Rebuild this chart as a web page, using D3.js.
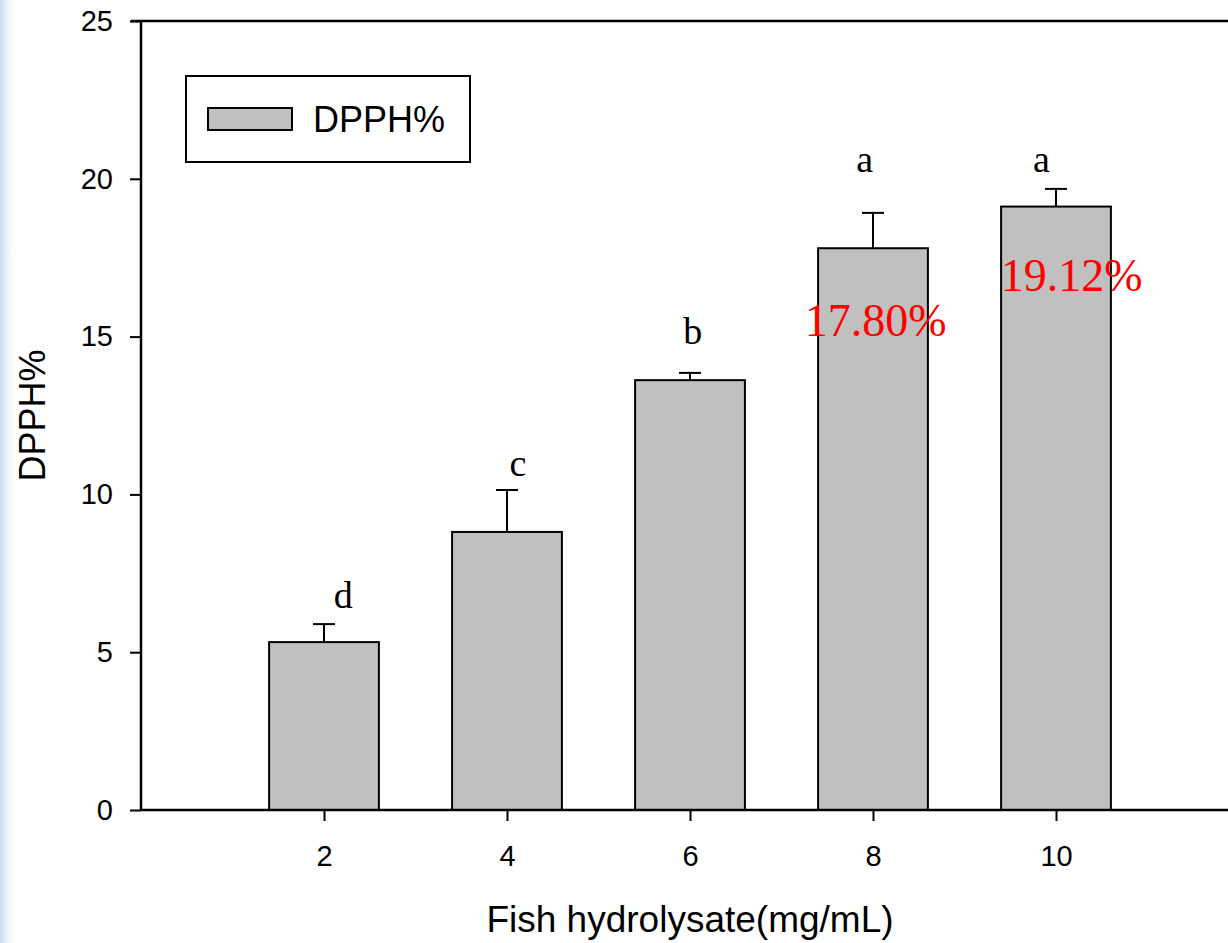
<!DOCTYPE html>
<html>
<head>
<meta charset="utf-8">
<script src="https://cdn.jsdelivr.net/npm/d3@7"></script>
<style>
  html, body { margin: 0; padding: 0; background: #fff; }
  svg { display: block; }
</style>
</head>
<body>
<script>
// DPPH radical scavenging of fish hydrolysate by concentration
const concentrations = [2, 4, 6, 8, 10];
const dpphMeans = [5.32, 8.81, 13.62, 17.80, 19.12];
const dpphErrors = [0.57, 1.33, 0.23, 1.12, 0.56];
const groupLetters = ["d", "c", "b", "a", "a"];
// where each significance letter sits, in data units (concentration, DPPH%)
const letterAtX = [2.21, 4.12, 6.03, 7.91, 9.84];
const letterAtY = [6.40, 10.58, 14.76, 20.22, 20.22];
// highlighted mean values and their anchor points in data units
const valueLabels = ["17.80%", "19.12%"];
const valueLabelX = [8.03, 10.17];
const valueLabelY = [15.02, 16.44];
const yTicks = [0, 5, 10, 15, 20, 25];

const W = 1228, H = 943;
const svg = d3.select("body").append("svg").attr("width", W).attr("height", H);

// soft bluish edge on the left
const defs = svg.append("defs");
const grad = defs.append("linearGradient").attr("id", "edge").attr("x1", 0).attr("x2", 1);
grad.append("stop").attr("offset", 0).attr("stop-color", "#c9d9ee");
grad.append("stop").attr("offset", 1).attr("stop-color", "#ffffff").attr("stop-opacity", 0);
svg.append("rect").attr("x", 0).attr("y", 0).attr("width", 18).attr("height", H).attr("fill", "url(#edge)");

const x = d3.scaleLinear().domain([0, 12]).range([141, 1239]);
const y = d3.scaleLinear().domain([0, 25]).range([810, 21]);
const barW = x(1.2) - x(0);

const sans = "Arial, 'Liberation Sans', sans-serif";
const serif = "'Times New Roman', 'Liberation Serif', serif";

// bars
svg.append("g").selectAll("rect")
  .data(concentrations)
  .join("rect")
  .attr("x", (d) => x(d) - barW / 2)
  .attr("y", (d, i) => y(dpphMeans[i]))
  .attr("width", barW)
  .attr("height", (d, i) => y(0) - y(dpphMeans[i]))
  .attr("fill", "#c0c0c0")
  .attr("stroke", "#000")
  .attr("stroke-width", 2);

// upper error bars
const err = svg.append("g").attr("stroke", "#000").attr("stroke-width", 2);
concentrations.forEach((c, i) => {
  const top = y(dpphMeans[i] + dpphErrors[i]);
  err.append("line").attr("x1", x(c)).attr("x2", x(c)).attr("y1", y(dpphMeans[i])).attr("y2", top);
  err.append("line").attr("x1", x(c) - 11).attr("x2", x(c) + 11).attr("y1", top).attr("y2", top);
});

// significance letters
svg.append("g").selectAll("text")
  .data(groupLetters)
  .join("text")
  .attr("x", (d, i) => x(letterAtX[i]))
  .attr("y", (d, i) => y(letterAtY[i]))
  .attr("text-anchor", "middle")
  .attr("font-family", serif)
  .attr("font-size", 38)
  .attr("fill", "#000")
  .text((d) => d);

// value labels
svg.append("g").selectAll("text")
  .data(valueLabels)
  .join("text")
  .attr("x", (d, i) => x(valueLabelX[i]))
  .attr("y", (d, i) => y(valueLabelY[i]))
  .attr("text-anchor", "middle")
  .attr("font-family", serif)
  .attr("font-size", 46)
  .attr("fill", "#ff0000")
  .text((d) => d);

// axes
const yAxis = svg.append("g")
  .attr("transform", `translate(${x(0)},0)`)
  .call(d3.axisLeft(y).tickValues(yTicks).tickSize(11).tickPadding(17));
const xAxis = svg.append("g")
  .attr("transform", `translate(0,${y(0)})`)
  .call(d3.axisBottom(x).tickValues(concentrations).tickSize(11).tickPadding(24));
[yAxis, xAxis].forEach((g) => {
  g.attr("font-size", null).attr("font-family", null);
  g.select(".domain").remove();
  g.selectAll(".tick line").attr("stroke", "#000").attr("stroke-width", 2);
  g.selectAll(".tick text")
    .style("font-family", sans).style("font-size", "29px").attr("fill", "#000");
});

// frame lines: left, bottom and top
const frame = svg.append("g").attr("stroke", "#000").attr("stroke-width", 2.5).attr("fill", "none");
frame.append("line").attr("x1", x(0)).attr("x2", x(0)).attr("y1", y(25)).attr("y2", y(0));
frame.append("line").attr("x1", x(0)).attr("x2", W).attr("y1", y(0)).attr("y2", y(0));
frame.append("line").attr("x1", 131).attr("x2", W).attr("y1", y(25)).attr("y2", y(25));

// axis titles
svg.append("text")
  .attr("transform", `translate(45,${(y(0) + y(25)) / 2}) rotate(-90)`)
  .attr("text-anchor", "middle")
  .attr("font-family", sans).attr("font-size", 36).attr("fill", "#000")
  .text("DPPH%");
svg.append("text")
  .attr("x", x(6)).attr("y", 932)
  .attr("text-anchor", "middle")
  .attr("font-family", sans).attr("font-size", 37).attr("fill", "#000")
  .text("Fish hydrolysate(mg/mL)");

// legend
const lg = svg.append("g");
lg.append("rect").attr("x", 186).attr("y", 76).attr("width", 284).attr("height", 86)
  .attr("fill", "#fff").attr("stroke", "#000").attr("stroke-width", 2);
lg.append("rect").attr("x", 208).attr("y", 108).attr("width", 84).attr("height", 22)
  .attr("fill", "#c0c0c0").attr("stroke", "#000").attr("stroke-width", 2);
lg.append("text").attr("x", 313).attr("y", 132)
  .attr("font-family", sans).attr("font-size", 36).attr("fill", "#000")
  .text("DPPH%");
</script>
</body>
</html>
